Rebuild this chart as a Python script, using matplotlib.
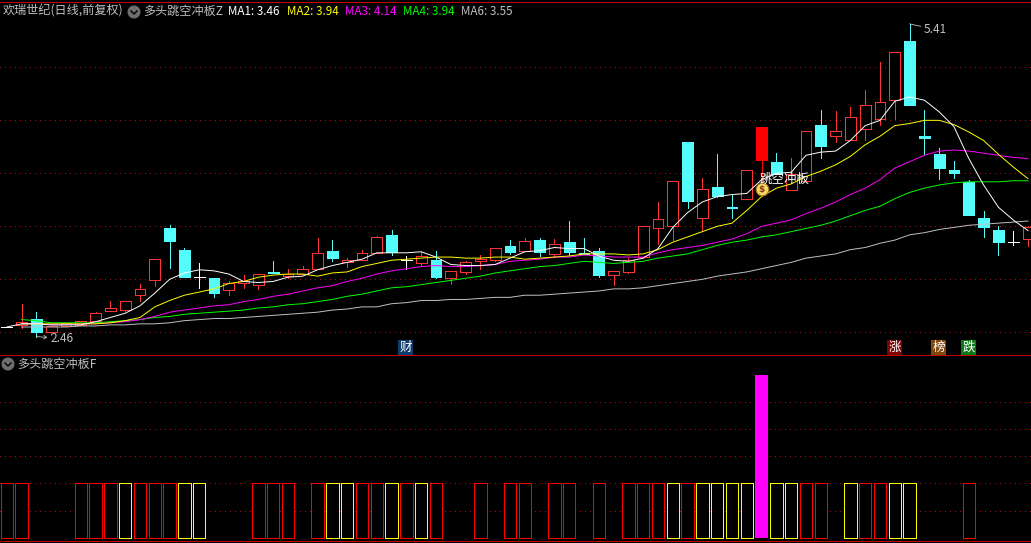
import numpy as np
import matplotlib
matplotlib.use("Agg")
import matplotlib.pyplot as plt
from matplotlib.patches import Circle

plt.rcParams['font.family'] = ['Noto Sans CJK SC', 'DejaVu Sans']

W, H = 1031, 543

# daily prices
opens = [2.55,2.57,2.63,2.50,2.56,2.57,2.61,2.70,2.71,2.85,2.99,3.48,3.28,3.02,3.01,2.90,2.97,2.95,3.07,3.03,
         3.05,3.10,3.27,3.16,3.18,3.25,3.42,3.18,3.15,3.18,3.01,3.07,3.17,3.18,3.31,3.27,3.37,3.24,3.35,3.25,
         3.27,3.04,3.07,3.21,3.48,3.50,4.30,3.58,3.87,3.68,3.76,4.13,4.11,3.84,3.93,4.46,4.35,4.31,4.42,4.51,
         4.69,5.25,4.35,4.18,4.03,3.92,3.58,3.47,3.35,3.38]
closes = [2.55,2.60,2.50,2.56,2.59,2.61,2.68,2.73,2.80,2.91,3.19,3.36,3.02,3.02,2.87,2.97,2.98,3.05,3.06,3.05,
          3.10,3.25,3.20,3.18,3.25,3.40,3.26,3.18,3.22,3.02,3.08,3.16,3.19,3.30,3.26,3.36,3.26,3.33,3.26,3.24,
          3.04,3.08,3.18,3.50,3.57,3.93,3.74,3.85,3.79,3.67,4.03,4.44,3.99,3.99,4.40,4.26,4.40,4.53,4.64,4.67,
          5.14,4.64,4.33,4.05,4.00,3.61,3.49,3.35,3.35,3.49]
highs = [2.55,2.77,2.69,2.56,2.59,2.61,2.69,2.80,2.80,2.96,3.19,3.51,3.30,3.15,3.01,2.98,3.04,3.05,3.17,3.10,
         3.13,3.39,3.37,3.20,3.28,3.41,3.47,3.22,3.26,3.27,3.08,3.17,3.23,3.30,3.37,3.39,3.39,3.38,3.55,3.39,
         3.30,3.08,3.20,3.50,3.73,3.93,4.30,3.96,4.18,3.80,4.03,4.44,4.19,4.14,4.40,4.60,4.59,4.63,4.79,5.05,
         5.14,5.41,4.60,4.24,4.12,3.94,3.64,3.50,3.46,3.50]
lows = [2.55,2.54,2.46,2.47,2.56,2.57,2.61,2.70,2.70,2.80,2.94,3.11,3.02,2.92,2.83,2.85,2.92,2.91,3.06,3.01,
        3.05,3.10,3.17,3.12,3.18,3.25,3.23,3.10,3.13,3.01,2.96,3.05,3.10,3.17,3.24,3.27,3.22,3.21,3.23,3.24,
        3.02,2.95,3.06,3.20,3.33,3.37,3.67,3.46,3.78,3.58,3.76,3.94,3.99,3.84,3.93,4.14,4.30,4.31,4.31,4.46,
        4.51,4.64,4.18,3.95,3.96,3.61,3.40,3.23,3.32,3.31]

# moving averages, MA1 starts on day 0, the others on day 1
ma1 = [2.55,2.58,2.58,2.57,2.57,2.57,2.60,2.64,2.68,2.75,2.87,3.00,3.06,3.09,3.08,3.05,2.98,2.97,2.98,3.02,
       3.03,3.09,3.13,3.16,3.19,3.25,3.25,3.25,3.26,3.21,3.14,3.13,3.13,3.14,3.20,3.26,3.27,3.30,3.29,3.29,
       3.22,3.18,3.17,3.20,3.29,3.49,3.63,3.73,3.78,3.80,3.81,3.94,4.00,4.01,4.17,4.20,4.21,4.31,4.45,4.50,
       4.68,4.72,4.69,4.58,4.44,4.14,3.89,3.68,3.56,3.46]
ma2 = [2.58,2.58,2.58,2.58,2.58,2.58,2.59,2.61,2.64,2.74,2.80,2.85,2.88,2.91,2.96,2.98,3.02,3.04,3.05,3.05,
       3.03,3.06,3.07,3.12,3.15,3.18,3.19,3.20,3.21,3.21,3.20,3.20,3.21,3.21,3.19,3.20,3.21,3.22,3.24,3.24,
       3.24,3.23,3.24,3.28,3.35,3.40,3.45,3.50,3.53,3.65,3.78,3.86,3.90,3.97,4.02,4.08,4.16,4.27,4.35,4.45,
       4.47,4.50,4.50,4.46,4.39,4.31,4.18,4.06,3.95]
ma3 = [2.58,2.58,2.57,2.57,2.58,2.58,2.59,2.60,2.62,2.65,2.69,2.71,2.73,2.75,2.76,2.79,2.81,2.84,2.86,2.89,
       2.92,2.94,2.98,3.01,3.05,3.08,3.10,3.12,3.13,3.12,3.12,3.13,3.14,3.17,3.18,3.19,3.21,3.21,3.23,3.22,
       3.21,3.21,3.21,3.25,3.28,3.30,3.32,3.35,3.38,3.43,3.50,3.53,3.56,3.62,3.67,3.73,3.80,3.86,3.94,4.05,
       4.11,4.17,4.21,4.22,4.21,4.19,4.17,4.15,4.14]
ma4 = [2.62,2.61,2.59,2.59,2.59,2.59,2.60,2.61,2.62,2.64,2.65,2.67,2.68,2.69,2.70,2.71,2.73,2.74,2.76,2.77,
       2.79,2.81,2.84,2.86,2.89,2.92,2.93,2.95,2.97,2.99,3.01,3.03,3.06,3.08,3.10,3.12,3.13,3.15,3.17,3.16,
       3.15,3.16,3.17,3.20,3.22,3.24,3.28,3.32,3.35,3.37,3.40,3.42,3.45,3.48,3.51,3.55,3.60,3.65,3.69,3.76,
       3.82,3.86,3.89,3.91,3.92,3.92,3.92,3.93,3.93]
ma6 = [2.55,2.55,2.55,2.55,2.56,2.56,2.57,2.57,2.58,2.58,2.59,2.61,2.62,2.63,2.63,2.64,2.65,2.66,2.67,2.68,
       2.69,2.71,2.72,2.74,2.74,2.77,2.78,2.80,2.80,2.81,2.81,2.82,2.83,2.83,2.85,2.85,2.86,2.87,2.88,2.89,
       2.91,2.91,2.92,2.94,2.96,2.98,3.00,3.03,3.05,3.07,3.10,3.13,3.16,3.20,3.22,3.24,3.28,3.30,3.34,3.37,
       3.42,3.44,3.47,3.49,3.51,3.52,3.53,3.54,3.55]

signal_day = 51

# lower panel
red_bars = [0,1,5,6,7,9,10,11,17,18,19,21,24,25,27,29,32,34,35,37,38,40,42,43,44,46,54,55,58,59,65]
yellow_bars = [8,12,13,22,23,26,28,45,47,48,49,50,52,53,57,60,61]
magenta_bars = [signal_day]
bar_value = 1
signal_value = 3

price_grid = [2.5, 3.0, 3.5, 4.0, 4.5, 5.0]
lower_grid = [0.5, 1.0, 1.5, 2.0, 2.5]

RED = '#ff3232'
CYAN = '#54fcfc'
GRID = '#a01414'
FRAME = '#c80000'
GRAY = '#c0c0c0'
THIN = 0.6

fig = plt.figure(figsize=(W / 100, H / 100), dpi=100, facecolor='black')


def add_panel(top, bottom):
    a = fig.add_axes([0, 1 - bottom / H, 1, (bottom - top) / H], facecolor='black')
    a.set_xlim(-6.8 / 14.8, (W - 6.8) / 14.8)
    a.set_xticks([])
    a.set_yticks([])
    for s in a.spines.values():
        s.set_visible(False)
    return a


ax = add_panel(3, 355)
ax.set_ylim(2.286, 5.607)
ax2 = add_panel(356, 541)
ax2.set_ylim(-0.06, 3.34)

for g in price_grid:
    ax.axhline(g, color=GRID, lw=0.72, ls=(0, (1, 4.5)), zorder=1, antialiased=False)
for g in lower_grid:
    ax2.axhline(g, color=GRID, lw=0.72, ls=(0, (1, 4.5)), zorder=1, antialiased=False)

# candles
days = np.arange(len(opens))
for i in days:
    o, c = opens[i], closes[i]
    if i == signal_day:
        col, face = '#ff0000', '#ff0000'
    elif c > o:
        col, face = RED, 'black'
    elif c < o:
        col, face = CYAN, CYAN
    else:
        col, face = 'white', 'white'
    ax.vlines(i, lows[i], highs[i], color=col, lw=THIN, zorder=2, antialiased=False)
    if c == o:
        ax.hlines(c, i - 0.36, i + 0.36, color=col, lw=THIN, zorder=3, antialiased=False)
    else:
        ax.bar(i, abs(c - o), bottom=min(o, c), width=0.72, facecolor=face, edgecolor=col,
               lw=THIN, zorder=3, antialiased=False)

# moving averages
ma_lines = [(ma6, GRAY), (ma4, '#00ff00'), (ma3, '#ff00ff'), (ma2, '#ffff00'), (ma1, 'white')]
for vals, col in ma_lines:
    ax.plot(days[-len(vals):], vals, color=col, lw=0.7, zorder=4)

# high and low marks
ax.annotate('5.41', xy=(61, 5.41), xytext=(10, -4), textcoords='offset points', color=GRAY,
            fontsize=8.6, va='center', zorder=6,
            arrowprops=dict(arrowstyle='-', color=GRAY, lw=0.6, shrinkA=0, shrinkB=0))
ax.annotate('2.46', xy=(2, 2.46), xytext=(10, -1.5), textcoords='offset points', color=GRAY,
            fontsize=8.6, va='center', zorder=6,
            arrowprops=dict(arrowstyle='<-,head_length=0.25,head_width=0.15', color=GRAY, lw=0.6, shrinkA=0, shrinkB=0))

# signal marker
ax.scatter([signal_day], [3.85], s=85, color='#f3d768', edgecolors='#9a6a10', lw=0.8, zorder=6)
ax.text(signal_day, 3.85, '$', color='#8a3a10', fontsize=6.5, ha='center', va='center', zorder=7,
        family='DejaVu Sans', weight='bold')
ax.text(signal_day + 1.55, 3.94, '跳空冲板', color='white', fontsize=9, ha='center', va='center', zorder=7)

# lower panel bars
for idx, col in [(red_bars, '#ff0000'), (yellow_bars, '#ffff00')]:
    ax2.bar(idx, [bar_value] * len(idx), width=0.83, facecolor='black', edgecolor=col, lw=THIN,
            zorder=3, antialiased=False)
ax2.bar(magenta_bars, [signal_value], width=0.87, color='#ff00ff', zorder=3, antialiased=False)

# overlay in pixel coordinates for headers and frame lines
top = fig.add_axes([0, 0, 1, 1], facecolor='none', zorder=10)
top.set_xlim(0, W)
top.set_ylim(H, 0)
top.axis('off')

for y in [2, 355.3, 540.7]:
    top.plot([0, W], [y, y], color=FRAME, lw=0.65, antialiased=False)


def header_text(x, y, s, col=GRAY, size=8.7):
    top.text(x, y, s, color=col, fontsize=size, ha='left', va='center')


def dropdown(x, y):
    top.add_patch(Circle((x, y), 5.8, color='#6e6e6e'))
    top.plot([x - 3, x, x + 3], [y - 1, y + 2, y - 1], color='black', lw=1.0)


header_text(3, 11, '欢瑞世纪(日线,前复权)')
dropdown(134, 12)
header_text(143, 11, '多头跳空冲板Z')
header_text(228, 11.5, 'MA1: 3.46', 'white', 8.4)
header_text(287, 11.5, 'MA2: 3.94', '#ffff00', 8.4)
header_text(345, 11.5, 'MA3: 4.14', '#ff00ff', 8.4)
header_text(403, 11.5, 'MA4: 3.94', '#00ff00', 8.4)
header_text(461, 11.5, 'MA6: 3.55', GRAY, 8.4)

dropdown(8, 364)
header_text(17, 364, '多头跳空冲板F')

for x, s, col in [(405.5, '财', '#0f3d6e'), (894.5, '涨', '#7d0404'), (938.5, '榜', '#80480c'), (968.5, '跌', '#0a7a14')]:
    top.text(x, 347.5, s, color='white', fontsize=9, ha='center', va='center',
             bbox=dict(boxstyle='square,pad=0.08', facecolor=col, edgecolor='none'))

fig.savefig('out.png', dpi=100, facecolor='black')
